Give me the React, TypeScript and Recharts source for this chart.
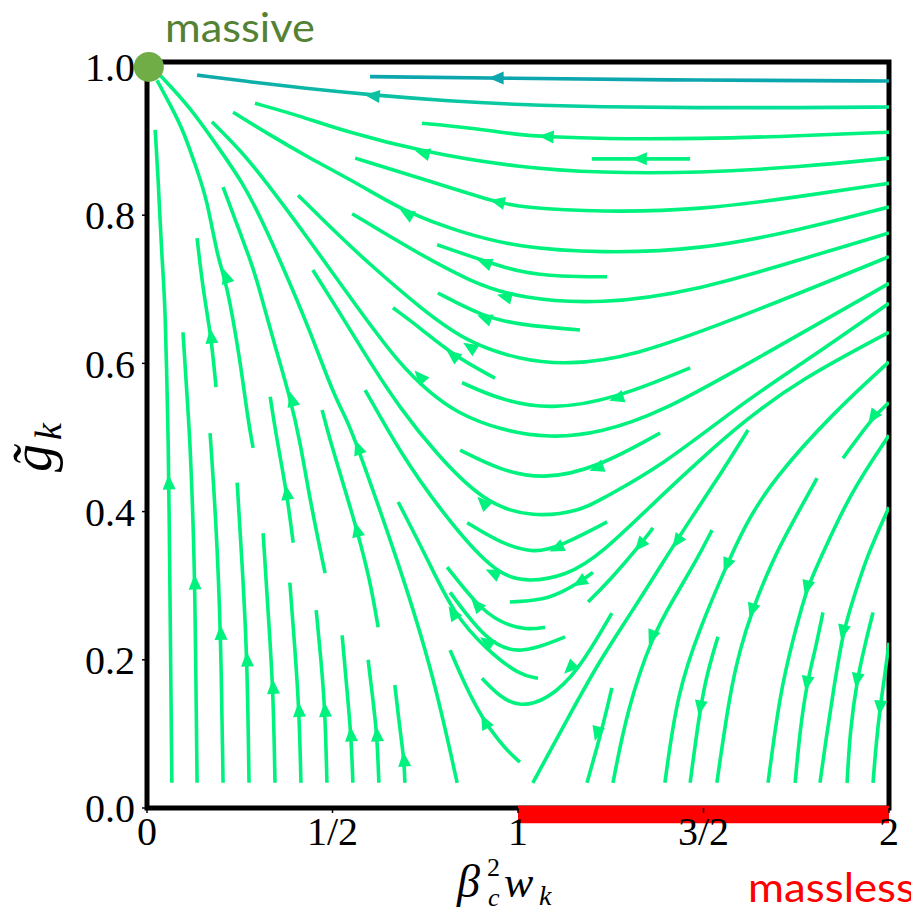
import { ComposedChart, Line, Scatter, XAxis, YAxis, ReferenceArea, ReferenceDot } from 'recharts'

type Pt = [number, number]

// ── axes ─────────────────────────────────────────────────────────────────────

const X_TICKS = [0, 0.5, 1, 1.5, 2]
const X_TICK_LABELS = ['0', '1/2', '1', '3/2', '2']
const Y_TICKS = [0, 0.2, 0.4, 0.6, 0.8, 1.0]

// ── streamlines (x = beta_c^2 w_k, y = g_k) ──────────────────────────────────

// upper band, flowing left to the massive point
const U1: Pt[] = [[0.601, 0.987], [0.951, 0.985], [1.491, 0.982], [2.0, 0.981]]
const U2: Pt[] = [[0.135, 0.989], [0.278, 0.98], [0.412, 0.972], [0.609, 0.962], [0.817, 0.954], [1.005, 0.949], [1.221, 0.946], [1.491, 0.945], [1.76, 0.945], [2.0, 0.946]]
const U3: Pt[] = [[0.741, 0.924], [0.871, 0.918], [1.005, 0.908], [1.078, 0.906], [1.221, 0.903], [1.491, 0.903], [1.76, 0.907], [2.0, 0.912]]
const U4: Pt[] = [[0.291, 0.951], [0.412, 0.934], [0.52, 0.915], [0.744, 0.885], [1.005, 0.864], [1.221, 0.857], [1.491, 0.857], [1.76, 0.865], [2.0, 0.877]]
const S1: Pt[] = [[1.199, 0.876], [1.329, 0.876], [1.464, 0.876]]
const U5: Pt[] = [[0.561, 0.877], [0.736, 0.85], [0.951, 0.816], [1.005, 0.811], [1.221, 0.804], [1.491, 0.807], [1.76, 0.825], [2.0, 0.843]]
const U6: Pt[] = [[0.232, 0.939], [0.332, 0.908], [0.431, 0.879], [0.574, 0.841], [0.701, 0.803], [0.844, 0.777], [1.005, 0.756], [1.221, 0.749], [1.491, 0.753], [1.76, 0.78], [2.0, 0.811]]
const S2: Pt[] = [[0.782, 0.76], [0.916, 0.737], [1.005, 0.723], [1.113, 0.717], [1.24, 0.717]]
const U8: Pt[] = [[0.553, 0.802], [0.701, 0.757], [0.879, 0.708], [1.005, 0.688], [1.221, 0.679], [1.491, 0.699], [1.76, 0.74], [2.0, 0.776]]
const S3: Pt[] = [[0.784, 0.695], [0.906, 0.663], [1.005, 0.652], [1.167, 0.645]]
const U10: Pt[] = [[0.407, 0.827], [0.52, 0.771], [0.609, 0.73], [0.736, 0.675], [0.863, 0.628], [1.005, 0.605], [1.132, 0.598], [1.31, 0.609], [1.58, 0.659], [1.849, 0.713], [2.0, 0.744]]
const S5: Pt[] = [[0.938, 0.58], [0.825, 0.611], [0.736, 0.648], [0.663, 0.675]]
const S4: Pt[] = [[0.849, 0.574], [0.951, 0.551], [1.086, 0.537], [1.267, 0.553], [1.464, 0.594]]
const U12: Pt[] = [[0.175, 0.926], [0.251, 0.888], [0.318, 0.847], [0.431, 0.771], [0.566, 0.676], [0.682, 0.598], [0.763, 0.56], [0.836, 0.533], [0.951, 0.51], [1.086, 0.499], [1.221, 0.506], [1.383, 0.533], [1.625, 0.601], [2.0, 0.708]]

// the valley: lines coming down from the right and turning back up-left
const VC: Pt[] = [[1.383, 0.506], [1.213, 0.459], [1.067, 0.443], [0.951, 0.456], [0.844, 0.483]]
const VB: Pt[] = [[2.0, 0.681], [1.76, 0.598], [1.598, 0.544], [1.383, 0.46], [1.221, 0.416], [1.175, 0.402], [1.04, 0.391], [0.906, 0.412], [0.771, 0.483], [0.682, 0.54], [0.609, 0.595], [0.52, 0.668], [0.447, 0.726]]
const VE: Pt[] = [[1.24, 0.386], [1.105, 0.351], [1.04, 0.344], [0.951, 0.358], [0.863, 0.385]]
const VD: Pt[] = [[2.0, 0.642], [1.76, 0.578], [1.606, 0.521], [1.491, 0.47], [1.383, 0.42], [1.221, 0.341], [1.132, 0.314], [1.024, 0.304], [0.933, 0.317], [0.79, 0.402], [0.682, 0.48], [0.588, 0.564]]
const VH: Pt[] = [[1.202, 0.318], [1.167, 0.305], [1.086, 0.281], [0.978, 0.278]]
const VG: Pt[] = [[1.073, 0.244], [1.024, 0.24], [0.951, 0.25], [0.889, 0.274], [0.809, 0.325]]
const VP: Pt[] = [[1.127, 0.231], [1.005, 0.206], [0.916, 0.224], [0.817, 0.291]]
const VF: Pt[] = [[1.054, 0.175], [1.005, 0.179], [0.916, 0.213], [0.825, 0.263], [0.757, 0.335], [0.677, 0.413]]
const VU: Pt[] = [[1.253, 0.263], [1.159, 0.182], [1.078, 0.146], [1.005, 0.136], [0.951, 0.15], [0.903, 0.175]]
const VI: Pt[] = [[1.005, 0.062], [0.978, 0.074], [0.951, 0.089], [0.906, 0.119], [0.857, 0.166], [0.817, 0.213]]

// lower right, flowing down to the massless line
const K1: Pt[] = [[1.62, 0.51], [1.544, 0.449], [1.464, 0.389], [1.391, 0.332], [1.31, 0.267], [1.221, 0.2], [1.132, 0.119], [1.04, 0.034]]
const KL: Pt[] = [[1.364, 0.378], [1.329, 0.355], [1.256, 0.312], [1.189, 0.278]]
const KV: Pt[] = [[1.253, 0.162], [1.226, 0.105], [1.186, 0.034]]
const KO: Pt[] = [[1.523, 0.375], [1.482, 0.335], [1.418, 0.281], [1.361, 0.231], [1.294, 0.132], [1.256, 0.034]]
const KP: Pt[] = [[2.0, 0.602], [1.849, 0.533], [1.687, 0.443], [1.612, 0.382], [1.563, 0.328], [1.491, 0.244], [1.429, 0.155], [1.396, 0.034]]
const KQ: Pt[] = [[1.539, 0.231], [1.512, 0.186], [1.491, 0.136], [1.464, 0.034]]
const KR: Pt[] = [[1.806, 0.445], [1.733, 0.379], [1.687, 0.335], [1.631, 0.267], [1.598, 0.213], [1.571, 0.155], [1.536, 0.034]]
const KA: Pt[] = [[2.0, 0.547], [1.957, 0.528], [1.876, 0.472]]
const R1: Pt[] = [[2.0, 0.503], [1.895, 0.425], [1.814, 0.335], [1.779, 0.298], [1.741, 0.227], [1.706, 0.155], [1.674, 0.034]]
const RT: Pt[] = [[1.822, 0.264], [1.801, 0.213], [1.779, 0.169], [1.76, 0.105], [1.747, 0.034]]
const R2: Pt[] = [[2.0, 0.406], [1.941, 0.341], [1.903, 0.281], [1.876, 0.238], [1.849, 0.155], [1.83, 0.092], [1.814, 0.034]]
const RV: Pt[] = [[1.957, 0.264], [1.935, 0.22], [1.914, 0.173], [1.895, 0.105], [1.887, 0.034]]
const R3: Pt[] = [[2.0, 0.223], [1.987, 0.173], [1.976, 0.136], [1.965, 0.085], [1.957, 0.034]]

// left side, flowing up to the massive point
const DA: Pt[] = [[0.027, 0.982], [0.07, 0.942], [0.097, 0.915], [0.135, 0.861], [0.162, 0.821], [0.191, 0.74], [0.213, 0.713], [0.251, 0.605], [0.272, 0.524], [0.286, 0.486]]
const DB: Pt[] = [[0.035, 0.989], [0.116, 0.946], [0.197, 0.888], [0.259, 0.843], [0.305, 0.798], [0.358, 0.74], [0.439, 0.645], [0.501, 0.56], [0.539, 0.524], [0.569, 0.486], [0.682, 0.325], [0.771, 0.182], [0.836, 0.034]]
const SL: Pt[] = [[0.205, 0.838], [0.24, 0.791], [0.278, 0.74], [0.296, 0.713], [0.34, 0.632], [0.385, 0.555], [0.412, 0.497], [0.439, 0.416], [0.48, 0.317]]
const M1: Pt[] = [[0.332, 0.555], [0.35, 0.497], [0.377, 0.425], [0.394, 0.358]]
const M2: Pt[] = [[0.472, 0.537], [0.493, 0.497], [0.534, 0.429], [0.566, 0.375], [0.601, 0.308], [0.623, 0.244]]
const L1: Pt[] = [[0.022, 0.915], [0.03, 0.852], [0.04, 0.74], [0.049, 0.686], [0.057, 0.497], [0.059, 0.439], [0.067, 0.034]]
const L2: Pt[] = [[0.097, 0.642], [0.105, 0.578], [0.116, 0.497], [0.124, 0.389], [0.129, 0.304], [0.135, 0.034]]
const L3A: Pt[] = [[0.135, 0.769], [0.151, 0.699], [0.173, 0.636], [0.186, 0.568]]
const L3: Pt[] = [[0.17, 0.506], [0.186, 0.389], [0.199, 0.236], [0.205, 0.034]]
const L4: Pt[] = [[0.243, 0.439], [0.259, 0.308], [0.27, 0.2], [0.275, 0.034]]
const L5: Pt[] = [[0.313, 0.371], [0.326, 0.267], [0.34, 0.163], [0.345, 0.034]]
const L6: Pt[] = [[0.385, 0.304], [0.399, 0.213], [0.41, 0.132], [0.415, 0.034]]
const L7: Pt[] = [[0.456, 0.267], [0.469, 0.2], [0.48, 0.132], [0.485, 0.034]]
const L8: Pt[] = [[0.526, 0.233], [0.539, 0.159], [0.55, 0.099], [0.555, 0.034]]
const L9: Pt[] = [[0.596, 0.2], [0.609, 0.146], [0.62, 0.099], [0.625, 0.034]]
const L10: Pt[] = [[0.668, 0.166], [0.682, 0.105], [0.693, 0.065], [0.695, 0.034]]

// arrow heads: [x, y, heading in screen degrees (0 = right, 90 = down)]
const ARROWS_TEAL: [number, number, number][] = [[0.943, 0.985, 180]]
const ARROWS_MID: [number, number, number][] = [[0.609, 0.961, 186]]
const ARROWS: [number, number, number][] = [
  [1.078, 0.906, 184], [0.744, 0.884, 195], [1.329, 0.876, 180], [0.946, 0.818, 193], [0.701, 0.802, 210],
  [0.911, 0.736, 200], [0.965, 0.69, 193], [0.911, 0.661, 200], [0.871, 0.622, 212], [0.825, 0.611, 218],
  [1.267, 0.553, 162], [0.736, 0.582, 228], [1.213, 0.459, 160], [0.906, 0.412, 225], [1.105, 0.351, 155],
  [0.933, 0.317, 205], [1.167, 0.305, 148], [0.889, 0.274, 228], [0.916, 0.224, 215], [0.825, 0.263, 237],
  [1.14, 0.189, 135], [0.911, 0.116, 243], [1.429, 0.36, 125], [1.329, 0.355, 130], [1.213, 0.101, 105],
  [1.361, 0.231, 112], [1.563, 0.328, 112], [1.491, 0.136, 100], [1.631, 0.267, 108], [1.957, 0.528, 125],
  [1.779, 0.298, 105], [1.779, 0.169, 100], [1.876, 0.238, 103], [1.914, 0.173, 100], [1.976, 0.136, 95],
  [0.059, 0.439, 268], [0.129, 0.304, 268], [0.199, 0.236, 268], [0.27, 0.2, 267], [0.34, 0.163, 267],
  [0.41, 0.132, 267], [0.48, 0.132, 266], [0.55, 0.099, 266], [0.62, 0.099, 266], [0.693, 0.065, 265],
  [0.173, 0.636, 264], [0.213, 0.717, 252], [0.391, 0.551, 255], [0.377, 0.425, 262], [0.566, 0.375, 256],
  [0.569, 0.486, 250],
]

// ── styling ──────────────────────────────────────────────────────────────────

const GREEN = '#00F27E'
const TEAL = '#0BA6AE'
const MID = '#0CC2A3'

const STREAMS: [Pt[], string][] = [
  [U1, TEAL], [U2, 'url(#u2grad)'], [U3, GREEN], [U4, GREEN], [S1, GREEN], [U5, GREEN], [U6, GREEN],
  [S2, GREEN], [U8, GREEN], [S3, GREEN], [U10, GREEN], [S5, GREEN], [S4, GREEN], [U12, GREEN],
  [VC, GREEN], [VB, GREEN], [VE, GREEN], [VD, GREEN], [VH, GREEN], [VG, GREEN], [VP, GREEN], [VF, GREEN],
  [VU, GREEN], [VI, GREEN], [K1, GREEN], [KL, GREEN], [KV, GREEN], [KO, GREEN], [KP, GREEN], [KQ, GREEN],
  [KR, GREEN], [KA, GREEN], [R1, GREEN], [RT, GREEN], [R2, GREEN], [RV, GREEN], [R3, GREEN],
  [DA, GREEN], [DB, GREEN], [SL, GREEN], [M1, GREEN], [M2, GREEN], [L1, GREEN], [L2, GREEN], [L3A, GREEN],
  [L3, GREEN], [L4, GREEN], [L5, GREEN], [L6, GREEN], [L7, GREEN], [L8, GREEN], [L9, GREEN], [L10, GREEN],
]

const SERIF = '"Liberation Serif", "DejaVu Serif", serif'
const tickFont = { fill: '#000', fontSize: 40, fontFamily: SERIF }

const toRows = (pts: Pt[]) => pts.map(([x, y]) => ({ x, y }))
const toArrows = (a: [number, number, number][]) => a.map(([x, y, h]) => ({ x, y, h }))

function ArrowHead(props: any) {
  const { cx, cy, payload, color } = props
  if (cx == null || cy == null) return null
  const t = (payload.h * Math.PI) / 180
  const L = 15, W = 13
  const ux = Math.cos(t), uy = Math.sin(t)
  const tipX = cx + ux * L * 0.55, tipY = cy + uy * L * 0.55
  const bx = cx - ux * L * 0.45, by = cy - uy * L * 0.45
  const px = -uy * W / 2, py = ux * W / 2
  return (
    <polygon
      points={`${tipX},${tipY} ${bx + px},${by + py} ${bx - px},${by - py}`}
      fill={color} stroke="none"
    />
  )
}

export default function App() {
  return (
    <div style={{ position: 'relative', width: 905, height: 905 }}>
      <svg width={0} height={0} style={{ position: 'absolute' }}>
        <defs>
          <linearGradient id="u2grad" gradientUnits="userSpaceOnUse" x1={189} y1={0} x2={881} y2={0}>
            <stop offset="0" stopColor="#0FA8AA" />
            <stop offset="0.3" stopColor="#0CC2A3" />
            <stop offset="1" stopColor="#00E894" />
          </linearGradient>
        </defs>
      </svg>

      <ComposedChart width={905} height={905} margin={{ top: 54, right: 24, bottom: 45, left: 0 }}>
        <XAxis
          dataKey="x" type="number" domain={[0, 2]} ticks={X_TICKS} allowDataOverflow
          tickFormatter={(v: number) => X_TICK_LABELS[X_TICKS.indexOf(v)] ?? String(v)}
          tick={tickFont} axisLine={false} tickLine={{ stroke: '#000', strokeWidth: 1.5 }}
          tickSize={5} tickMargin={4} height={60} interval={0}
        />
        <YAxis
          dataKey="y" type="number" domain={[0, 1.0067]} ticks={Y_TICKS} allowDataOverflow
          tickFormatter={(v: number) => v.toFixed(1)}
          tick={tickFont} axisLine={false} tickLine={{ stroke: '#000', strokeWidth: 1.5 }}
          tickSize={5} tickMargin={7} width={139} interval={0}
        />

        {STREAMS.map(([pts, color], i) => (
          <Line
            key={i} data={toRows(pts)} dataKey="y" type="basis"
            stroke={color} strokeWidth={3.6} dot={false} activeDot={false}
            isAnimationActive={false} legendType="none"
          />
        ))}

        <Scatter data={toArrows(ARROWS)} dataKey="y" isAnimationActive={false}
          shape={(p: any) => <ArrowHead {...p} color={GREEN} />} />
        <Scatter data={toArrows(ARROWS_TEAL)} dataKey="y" isAnimationActive={false}
          shape={(p: any) => <ArrowHead {...p} color={TEAL} />} />
        <Scatter data={toArrows(ARROWS_MID)} dataKey="y" isAnimationActive={false}
          shape={(p: any) => <ArrowHead {...p} color={MID} />} />

        <ReferenceArea x1={0} x2={2} y1={0} y2={1.0067} fill="none" stroke="#000" strokeWidth={5} ifOverflow="visible" />
        <ReferenceArea x1={1} x2={2} y1={-0.0205} y2={0.003} fill="#FF0000" fillOpacity={1} stroke="none" ifOverflow="visible" />
        <ReferenceDot x={0.005} y={1.0} r={15} fill="#70AD47" stroke="none" ifOverflow="visible" />
      </ComposedChart>

      <svg width={919} height={923} style={{ position: 'absolute', left: -8, top: -8, pointerEvents: 'none' }}>
        <text x={165} y={42} fill="#548235" fontFamily="Lato, 'Open Sans', sans-serif" fontSize={40}
          textLength={150} lengthAdjust="spacingAndGlyphs">massive</text>
        <text x={748} y={902} fill="#FF0000" fontFamily="Lato, 'Open Sans', sans-serif" fontSize={40}
          textLength={167} lengthAdjust="spacingAndGlyphs">massless</text>

        <g fontFamily={SERIF} fill="#000">
          <text x={457} y={897} fontSize={46} fontStyle="italic">β</text>
          <text x={487} y={876} fontSize={26}>2</text>
          <text x={488} y={906} fontSize={26} fontStyle="italic">c</text>
          <text x={504} y={897} fontSize={44} fontStyle="italic">w</text>
          <text x={539} y={905} fontSize={28} fontStyle="italic">k</text>

          <text transform="rotate(-90 51 472)" x={51} y={472} fontSize={56} fontStyle="italic">
            g̃<tspan fontSize={38} dx={4} dy={10}>k</tspan>
          </text>
        </g>
      </svg>
    </div>
  )
}
